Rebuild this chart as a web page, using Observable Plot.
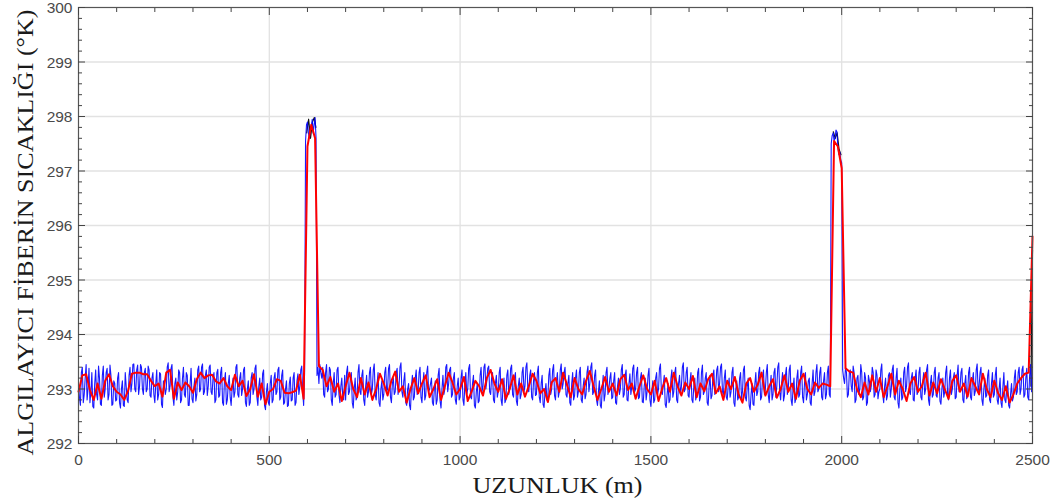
<!DOCTYPE html>
<html>
<head>
<meta charset="utf-8">
<script src="https://cdn.jsdelivr.net/npm/d3@7"></script>
<script src="https://cdn.jsdelivr.net/npm/@observablehq/plot@0.6"></script>
<style>
  html, body { margin: 0; padding: 0; background: #ffffff; }
  #chart { width: 1056px; height: 501px; }
</style>
</head>
<body>
<div id="chart"></div>
<script>
// ---- data ----
const xTitle = "UZUNLUK (m)";
const yTitle = "ALGILAYICI FİBERİN SICAKLIĞI (°K)";

const xMajor = [0, 500, 1000, 1500, 2000, 2500];
const xMinor = [100, 200, 300, 400, 600, 700, 800, 900, 1100, 1200, 1300, 1400, 1600, 1700, 1800, 1900, 2100, 2200, 2300, 2400];
const yMajor = [292, 293, 294, 295, 296, 297, 298, 299, 300];
const yMinor = [292.2, 292.4, 292.6, 292.8, 293.2, 293.4, 293.6, 293.8, 294.2, 294.4, 294.6, 294.8,
  295.2, 295.4, 295.6, 295.8, 296.2, 296.4, 296.6, 296.8, 297.2, 297.4, 297.6, 297.8,
  298.2, 298.4, 298.6, 298.8, 299.2, 299.4, 299.6, 299.8];

// blue (noisy measurement), one sample every 2.5 m starting at 0 m (40 samples per row = 100 m)
const blueStart = 0, blueStep = 2.5;
const blueT = [
  293.1, 292.85, 292.7, 293.3, 293.4, 292.75, 292.9, 293.2, 293.45, 292.8, 293.0, 293.38, 292.75, 292.95, 293.3, 292.68, 292.65, 293.1, 293.35, 292.9, 292.8, 293.42, 293.2, 292.72, 292.7, 293.25, 293.42, 292.85, 293.0, 293.3, 293.38, 292.8, 292.9, 293.44, 293.25, 292.7, 292.72, 293.15, 293.1, 292.78,
  292.8, 293.2, 293.3, 292.75, 292.65, 293.0, 293.15, 292.7, 292.68, 293.3, 293.05, 292.8, 292.75, 293.25, 293.4, 292.95, 293.1, 293.45, 293.46, 293.0, 292.95, 293.35, 293.44, 292.9, 293.05, 293.45, 293.4, 293.0, 292.9, 293.3, 293.38, 292.95, 293.0, 293.42, 293.35, 292.88, 292.85, 293.2, 293.3, 292.9,
  292.75, 293.1, 293.35, 292.8, 292.9, 293.3, 293.28, 292.72, 292.66, 293.15, 293.1, 292.9, 293.0, 293.4, 293.48, 292.95, 293.05, 293.38, 293.45, 292.85, 292.7, 293.1, 293.2, 292.8, 292.95, 293.35, 293.3, 292.75, 292.8, 293.2, 293.4, 292.9, 292.85, 293.3, 293.25, 292.7, 292.7, 293.1, 293.38, 292.82,
  292.75, 293.05, 293.2, 292.78, 292.9, 293.35, 293.42, 292.95, 293.0, 293.4, 293.46, 292.9, 292.95, 293.25, 293.35, 292.88, 293.05, 293.4, 293.44, 292.95, 292.9, 293.2, 293.3, 292.75, 292.8, 293.3, 293.36, 292.85, 292.88, 293.3, 293.4, 292.75, 292.7, 293.15, 293.3, 292.72, 292.8, 293.1, 293.25, 292.85,
  292.7, 293.0, 293.2, 292.85, 292.95, 293.4, 293.45, 292.9, 292.85, 293.2, 293.3, 292.88, 293.0, 293.35, 293.4, 292.75, 292.68, 293.0, 293.15, 292.7, 292.75, 293.2, 293.3, 292.9, 293.0, 293.38, 293.44, 292.85, 292.7, 293.05, 293.2, 292.8, 292.85, 293.28, 293.35, 292.7, 292.62, 292.95, 293.1, 292.75,
  292.7, 293.1, 293.25, 292.75, 292.8, 293.2, 293.3, 292.9, 292.95, 293.35, 293.4, 292.8, 292.85, 293.25, 293.35, 292.72, 292.75, 293.0, 293.15, 292.68, 292.7, 293.1, 293.22, 292.78, 292.8, 293.2, 293.3, 292.7, 292.75, 293.15, 293.28, 292.9, 293.05, 293.35, 293.42, 292.95, 292.7, 293.3, 297.55, 297.85,
  297.9, 297.7, 297.6, 297.75, 297.8, 297.95, 297.7, 297.85, 297.98, 297.6, 293.25, 293.4, 293.1, 293.45, 293.3, 293.2, 293.4, 292.9, 292.85, 293.3, 293.45, 292.95, 293.0, 293.4, 293.35, 292.8, 292.7, 293.1, 293.3, 292.85, 292.9, 293.35, 293.4, 292.9, 292.75, 293.05, 293.2, 292.85, 292.8, 293.25,
  292.8, 293.3, 293.42, 292.9, 292.95, 293.2, 293.3, 292.75, 292.65, 293.0, 293.2, 292.8, 292.85, 293.3, 293.45, 292.95, 292.9, 293.25, 293.35, 292.8, 292.7, 293.05, 293.25, 292.85, 292.95, 293.3, 293.4, 292.9, 293.0, 293.35, 293.46, 292.9, 292.8, 293.1, 293.3, 292.75, 292.68, 293.0, 293.15, 292.8,
  292.9, 293.3, 293.4, 292.95, 293.0, 293.38, 293.45, 292.85, 292.75, 293.1, 293.2, 292.9, 292.95, 293.3, 293.38, 292.9, 293.05, 293.4, 293.48, 292.95, 292.85, 293.15, 293.3, 292.75, 292.7, 293.0, 293.1, 292.7, 292.62, 293.05, 293.25, 292.8, 292.85, 293.2, 293.35, 292.9, 292.95, 293.3, 293.4, 292.85,
  292.75, 293.1, 293.3, 292.8, 292.88, 293.3, 293.42, 292.95, 293.0, 293.1, 293.2, 292.75, 292.7, 293.0, 293.15, 292.72, 292.8, 293.25, 293.38, 292.78, 292.65, 293.0, 293.25, 292.9, 293.0, 293.4, 293.45, 292.95, 293.1, 293.35, 293.4, 292.85, 292.9, 293.2, 293.3, 292.8, 292.72, 293.05, 293.2, 292.8,
  292.85, 293.2, 293.35, 292.8, 292.7, 293.1, 293.3, 292.9, 293.0, 293.38, 293.45, 292.85, 292.82, 293.1, 293.25, 292.7, 292.65, 292.95, 293.1, 292.75, 292.78, 293.25, 293.4, 292.95, 293.05, 293.4, 293.46, 293.0, 293.15, 293.38, 293.42, 292.95, 292.9, 293.2, 293.3, 292.8, 292.75, 293.1, 293.25, 292.85,
  292.95, 293.3, 293.4, 292.8, 292.7, 293.05, 293.2, 292.75, 292.8, 293.25, 293.35, 292.9, 293.0, 293.38, 293.44, 292.9, 292.85, 293.2, 293.3, 292.78, 292.7, 293.05, 293.2, 292.82, 292.9, 293.3, 293.4, 292.95, 293.05, 293.4, 293.48, 293.0, 292.95, 293.25, 293.35, 292.85, 292.8, 293.15, 293.3, 292.88,
  292.9, 293.3, 293.42, 292.85, 292.75, 293.1, 293.25, 292.72, 292.66, 292.95, 293.1, 292.8, 292.85, 293.25, 293.38, 292.9, 293.0, 293.35, 293.45, 292.88, 292.8, 293.15, 293.3, 292.85, 292.95, 293.35, 293.46, 293.0, 293.1, 293.3, 293.4, 292.9, 292.85, 293.1, 293.25, 292.75, 292.7, 293.1, 293.3, 292.8,
  292.88, 293.2, 293.35, 292.85, 292.95, 293.3, 293.4, 292.8, 292.75, 293.05, 293.2, 292.82, 292.9, 293.3, 293.42, 292.95, 293.1, 293.4, 293.48, 292.9, 292.95, 293.25, 293.35, 292.8, 292.7, 292.95, 293.15, 292.7, 292.65, 293.0, 293.25, 292.78, 292.9, 293.3, 293.4, 292.9, 293.0, 293.2, 293.3, 292.82,
  292.85, 293.15, 293.3, 292.75, 292.72, 293.05, 293.2, 292.9, 293.0, 293.35, 293.45, 292.85, 292.9, 293.25, 293.35, 292.8, 292.78, 293.1, 293.28, 292.9, 293.05, 293.38, 293.44, 292.95, 293.0, 293.3, 293.4, 292.82, 292.85, 293.2, 293.3, 292.76, 292.75, 293.05, 293.2, 292.8, 292.95, 293.25, 293.38, 292.8,
  292.68, 292.95, 293.15, 292.75, 292.8, 293.2, 293.3, 292.9, 293.0, 293.38, 293.46, 292.95, 292.9, 293.1, 293.25, 292.72, 292.66, 292.9, 293.1, 292.75, 292.8, 293.2, 293.35, 292.85, 292.95, 293.3, 293.4, 292.8, 292.75, 293.1, 293.25, 292.9, 293.05, 293.4, 293.48, 292.95, 293.0, 293.3, 293.4, 292.88,
  292.85, 293.15, 293.3, 292.8, 292.75, 293.05, 293.2, 292.8, 292.9, 293.3, 293.38, 292.78, 292.85, 293.3, 293.44, 292.9, 292.95, 293.2, 293.3, 292.75, 292.7, 293.05, 293.25, 292.82, 292.88, 293.25, 293.35, 292.9, 293.0, 293.35, 293.42, 292.95, 293.1, 293.4, 293.46, 292.95, 292.9, 293.2, 293.35, 292.85,
  292.8, 293.05, 293.2, 292.85, 292.95, 293.3, 293.4, 292.75, 292.68, 293.0, 293.15, 292.8, 292.85, 293.2, 293.3, 292.82, 292.95, 293.35, 293.42, 292.85, 292.78, 293.05, 293.2, 292.7, 292.62, 292.9, 293.1, 292.72, 292.7, 293.1, 293.3, 292.88, 292.95, 293.3, 293.4, 292.8, 292.85, 293.2, 293.35, 292.9,
  293.0, 293.3, 293.45, 292.9, 292.75, 293.05, 293.25, 292.8, 292.9, 293.3, 293.38, 292.85, 293.05, 293.4, 293.48, 292.95, 292.8, 293.1, 293.3, 292.78, 292.88, 293.25, 293.4, 292.9, 293.0, 293.35, 293.44, 292.8, 292.7, 293.0, 293.2, 292.75, 292.82, 293.2, 293.35, 292.85, 292.9, 293.3, 293.42, 292.85,
  292.75, 293.1, 293.3, 292.8, 292.9, 293.15, 293.2, 292.75, 292.7, 293.1, 293.35, 292.88, 292.95, 293.3, 293.45, 292.95, 293.0, 293.3, 293.4, 292.85, 292.8, 293.15, 293.3, 292.82, 292.9, 293.3, 293.42, 292.9, 292.85, 297.5, 297.65, 297.7, 297.55, 297.6, 297.75, 297.72, 297.45, 297.3, 297.35, 297.2,
  297.15, 293.35, 293.2, 293.1, 293.4, 293.3, 292.85, 292.9, 293.3, 293.35, 293.05, 292.95, 293.42, 293.3, 292.75, 292.8, 293.2, 293.25, 292.9, 293.0, 293.45, 293.3, 292.8, 292.85, 293.3, 293.2, 292.7, 292.75, 293.25, 293.15, 292.95, 293.05, 293.4, 293.3, 292.85, 292.9, 293.35, 293.25, 292.82, 292.95,
  293.0, 293.35, 293.46, 292.9, 292.75, 293.05, 293.2, 292.8, 292.88, 293.25, 293.3, 292.85, 293.0, 293.35, 293.44, 292.85, 292.8, 293.2, 293.38, 292.75, 292.65, 293.0, 293.2, 292.8, 292.85, 293.3, 293.4, 292.95, 293.05, 293.4, 293.48, 292.95, 292.9, 293.2, 293.3, 292.8, 292.78, 293.2, 293.35, 292.9,
  292.95, 293.3, 293.4, 292.85, 292.8, 293.15, 293.3, 292.9, 293.0, 293.35, 293.45, 292.8, 292.7, 293.1, 293.25, 292.85, 292.9, 293.3, 293.4, 292.88, 292.85, 293.2, 293.3, 292.78, 292.72, 293.0, 293.2, 292.85, 292.95, 293.3, 293.42, 292.9, 292.8, 293.2, 293.35, 292.9, 293.0, 293.2, 293.3, 292.82,
  292.85, 293.25, 293.44, 292.95, 293.0, 293.3, 293.38, 292.8, 292.75, 293.1, 293.25, 292.82, 292.9, 293.3, 293.4, 292.85, 292.8, 293.15, 293.3, 292.88, 292.95, 293.35, 293.46, 292.95, 293.05, 293.3, 293.4, 292.8, 292.7, 293.0, 293.2, 292.85, 292.88, 293.25, 293.35, 292.8, 292.75, 293.1, 293.3, 292.85,
  292.9, 293.25, 293.4, 292.8, 292.72, 293.0, 293.2, 292.75, 292.66, 293.05, 293.3, 292.8, 292.75, 293.0, 293.15, 292.7, 292.65, 292.9, 293.1, 292.78, 292.85, 293.2, 293.35, 292.9, 292.95, 293.3, 293.4, 292.9, 293.0, 293.35, 293.42, 292.85, 292.9, 293.2, 293.38, 292.85, 292.8, 293.25, 293.45, 292.95,
  293.3
];

// red (filtered), one sample every 10 m starting at 0 m
const redStart = 0, redStep = 10;
const redT = [
  292.95, 293.25, 293.27, 292.98, 292.8, 293.1, 292.82, 293.15, 293.27, 293.05,
  292.95, 292.9, 292.8, 292.97, 293.28, 293.3, 293.3, 293.27, 293.27, 293.15,
  293.05, 293.1, 292.86, 293.3, 293.35, 292.82, 293.12, 292.98, 293.12, 293.05,
  292.93, 293.18, 293.3, 293.2, 293.25, 293.26, 293.14, 293.1, 293.2, 293.05,
  292.98, 293.26, 293.05, 293.15, 292.87, 293.0, 293.27, 292.86, 293.1, 292.72,
  292.95, 293.0, 293.18, 293.15, 292.93, 292.92, 292.94, 292.97, 293.26, 292.82,
  297.45, 297.85, 297.6, 293.42, 293.35, 293.05,
  293.22, 292.95, 293.1, 292.78, 293.05, 293.3, 293.0, 292.85, 293.2, 292.9,
  293.12, 292.8, 293.0, 293.28, 293.1, 292.88, 293.15, 293.32, 292.95, 293.05,
  292.75, 293.0, 293.2, 292.92, 293.1, 293.25, 292.85, 293.0, 293.18, 292.8,
  293.05, 293.3, 293.12, 292.9, 293.0, 293.22, 292.78, 292.95, 293.15, 293.05,
  292.88, 293.2, 293.35, 293.1, 292.95, 293.18, 292.82, 293.0, 293.25, 292.9,
  293.1, 292.86, 293.05, 293.28, 293.15, 292.92, 293.0, 292.76, 293.12, 293.2,
  292.95, 293.3, 293.08, 292.85, 293.2, 293.0, 292.9, 293.15, 293.33, 293.05,
  292.8, 293.0, 293.22, 292.95, 293.1, 292.88, 293.18, 293.26, 292.98, 293.1,
  292.82, 293.05, 293.25, 293.0, 292.9, 293.15, 292.78, 293.02, 293.2, 292.95,
  293.3, 293.05, 292.88, 293.12, 293.0, 293.24, 292.85, 293.1, 292.96, 293.18,
  293.28, 292.92, 293.05, 292.8, 293.15, 293.0, 293.22, 292.9, 292.75, 293.1,
  293.2, 292.95, 293.08, 293.3, 292.88, 293.05, 293.18, 292.84, 293.0, 293.25,
  292.95, 293.1, 292.82, 293.15, 293.28, 293.0, 292.9, 293.12, 293.02, 293.1,
  293.08, 293.05,
  297.55, 297.45, 297.05,
  293.38, 293.32, 293.3, 293.0, 292.85, 293.12, 292.9, 293.25, 292.95,
  293.2, 292.85, 293.05, 293.28, 292.9, 293.15, 293.0, 292.78, 293.1, 293.22,
  292.95, 293.05, 293.3, 292.88, 293.12, 292.92, 293.18, 293.0, 292.82, 293.15,
  293.25, 292.95, 293.1, 292.86, 293.2, 293.05, 292.9, 293.28, 293.0, 292.85,
  293.15, 292.92, 292.8, 293.05, 292.75, 292.9, 293.1, 293.2, 293.28, 293.3,
  295.8
];

// black (reference signal), visible only where it is not hidden by the blue
const blackX = [598, 603, 608, 613, 618, 622, null, 1978, 1983, 1988, 1993, 1998, null, 2496, 2500];
const blackT = [297.7, 297.95, 297.6, 297.9, 297.98, 297.8, null, 297.72, 297.6, 297.7, 297.4, 297.3, null, 293.05, 295.55];

// ---- tables built from the arrays ----
const blue = blueT.map((t, i) => ({x: blueStart + i * blueStep, t}));
const red = redT.map((t, i) => ({x: redStart + i * redStep, t}));
const black = blackX.map((x, i) => ({x: x == null ? NaN : x, t: blackT[i] == null ? NaN : blackT[i]}));

const tickColor = "#444";
const plain = d => String(d);
const none = () => "";
const serif = "'Liberation Serif', 'Times New Roman', serif";
const chart = Plot.plot({
  width: 1056,
  height: 501,
  marginLeft: 78,
  marginRight: 24,
  marginTop: 7,
  marginBottom: 58,
  x: {domain: [0, 2500]},
  y: {domain: [292, 300]},
  style: {fontFamily: "'Liberation Sans', Arial, sans-serif", fontSize: "15.5px", color: "#4a4a4a", background: "#ffffff"},
  marks: [
    Plot.gridX(xMajor.slice(1, -1), {stroke: "#e2e2e2", strokeOpacity: 1, strokeWidth: 1.3}),
    Plot.gridY(yMajor.slice(1, -1), {stroke: "#e2e2e2", strokeOpacity: 1, strokeWidth: 1.3}),
    Plot.line(black, {x: "x", y: "t", stroke: "#111", strokeWidth: 1.2}),
    Plot.line(blue, {x: "x", y: "t", stroke: "#0000ff", strokeWidth: 1.1, strokeOpacity: 0.9}),
    Plot.line(red, {x: "x", y: "t", stroke: "#ff0000", strokeWidth: 2}),
    Plot.frame({stroke: "#555", strokeWidth: 1.2}),
    // labels
    Plot.axisX(xMajor, {anchor: "bottom", tickSize: 0, tickPadding: 10, label: null, tickFormat: plain}),
    Plot.axisY(yMajor, {anchor: "left", tickSize: 0, tickPadding: 6, dy: 1, label: null, tickFormat: plain}),
    // inward ticks on all four sides
    Plot.axisX(xMajor, {anchor: "bottom", tickSize: -7, tickFormat: none, label: null, stroke: tickColor}),
    Plot.axisX(xMinor, {anchor: "bottom", tickSize: -4, tickFormat: none, label: null, stroke: tickColor}),
    Plot.axisX(xMajor, {anchor: "top", tickSize: -7, tickFormat: none, label: null, stroke: tickColor}),
    Plot.axisX(xMinor, {anchor: "top", tickSize: -4, tickFormat: none, label: null, stroke: tickColor}),
    Plot.axisY(yMajor, {anchor: "left", tickSize: -7, tickFormat: none, label: null, stroke: tickColor}),
    Plot.axisY(yMinor, {anchor: "left", tickSize: -4, tickFormat: none, label: null, stroke: tickColor}),
    Plot.axisY(yMajor, {anchor: "right", tickSize: -7, tickFormat: none, label: null, stroke: tickColor}),
    Plot.axisY(yMinor, {anchor: "right", tickSize: -4, tickFormat: none, label: null, stroke: tickColor}),
    // axis titles
    Plot.text([xTitle], {text: d => d, className: "xtitle", frameAnchor: "bottom", textAnchor: "middle", lineAnchor: "middle", dx: 2, dy: 42, fontFamily: serif, fontSize: 23, fill: "#1a1a1a"}),
    Plot.text([yTitle], {text: d => d, className: "ytitle", frameAnchor: "left", textAnchor: "middle", lineAnchor: "middle", dx: -53, dy: 7, rotate: -90, fontFamily: serif, fontSize: 23, fill: "#1a1a1a"})
  ]
});
// the reference's serif titles are slightly wider than their height suggests
chart.querySelectorAll(".xtitle text").forEach(t => { t.setAttribute("textLength", 170); t.setAttribute("lengthAdjust", "spacingAndGlyphs"); });
chart.querySelectorAll(".ytitle text").forEach(t => { t.setAttribute("textLength", 446); t.setAttribute("lengthAdjust", "spacingAndGlyphs"); });
document.getElementById("chart").appendChild(chart);
</script>
</body>
</html>
